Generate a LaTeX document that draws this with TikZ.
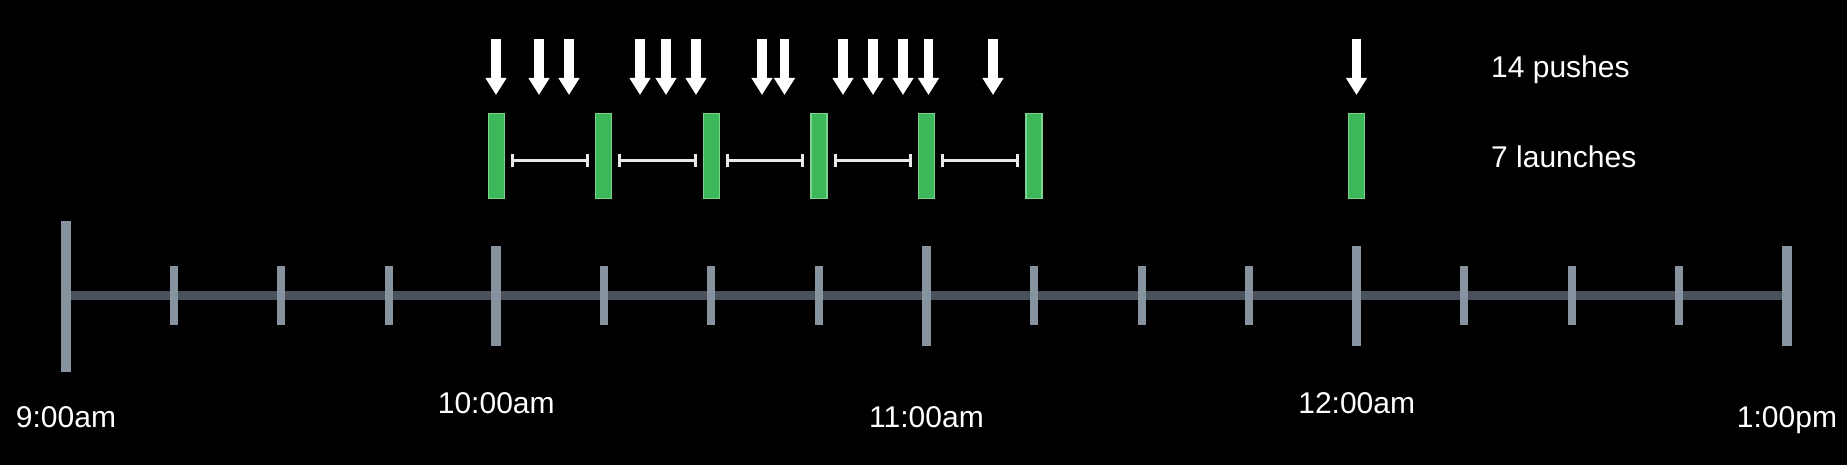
\documentclass[tikz,border=0pt]{standalone}
\usepackage{fontspec}
\setmainfont{Liberation Sans}
\usetikzlibrary{arrows.meta,calc}

\definecolor{tickgray}{RGB}{136,147,160}
\definecolor{axisgray}{RGB}{72,81,92}
\definecolor{launchgreen}{RGB}{60,184,90}
\definecolor{launchedge}{RGB}{122,212,142}
\definecolor{spanwhite}{RGB}{232,232,232}

\tikzset{
    axisline/.style={draw=axisgray, line width=9pt},
    minortick/.style={draw=tickgray, line width=8pt},
    hourtick/.style={draw=tickgray, line width=9.5pt},
    launch/.style={rectangle, fill=launchgreen, draw=launchedge, line width=1.2pt,
        minimum width=16pt, minimum height=85pt, inner sep=0pt},
    push/.style={draw=white, line width=9.5pt, -{Triangle[width=20pt,length=17pt]}},
    span/.style={draw=spanwhite, line width=3pt, {Bar[width=13pt]}-{Bar[width=13pt]},
        shorten <=6pt, shorten >=6pt},
    timelabel/.style={text=white, anchor=base, inner sep=0pt, font=\fontsize{30}{36}\selectfont},
    legendlabel/.style={text=white, anchor=base west, inner sep=0pt, font=\fontsize{30}{36}\selectfont}
}

\begin{document}
\begin{tikzpicture}[x=1pt, y=-1pt]
    \fill[black] (0,0) rectangle (1847,465);
    \useasboundingbox (0,0) rectangle (1847,465);

    \foreach \k in {0,...,16} {
        \coordinate (t\k) at ({66+107.56*\k},295.5);
    }
    \draw[axisline] (t0) -- (t16);
    \foreach \k in {1,2,3,5,6,7,9,10,11,13,14,15} {
        \draw[minortick] ($(t\k)+(0,-29.5)$) -- ($(t\k)+(0,29.5)$);
    }
    \foreach \k in {4,8,12,16} {
        \draw[hourtick] ($(t\k)+(0,-50)$) -- ($(t\k)+(0,50)$);
    }
    \draw[hourtick] ($(t0)+(0,-74)$) -- ($(t0)+(0,76)$);

    \node[timelabel] (nine) at ($(t0 |- 0,427)$) {9:00am};
    \node[timelabel] (ten) at ($(t4 |- 0,413)$) {10:00am};
    \node[timelabel] (eleven) at ($(t8 |- 0,427)$) {11:00am};
    \node[timelabel] (twelve) at ($(t12 |- 0,413)$) {12:00am};
    \node[timelabel] (one) at ($(t16 |- 0,427)$) {1:00pm};

    \node[launch] (l1) at (t4 |- 0,156) {};
    \node[launch] (l2) at (t5 |- 0,156) {};
    \node[launch] (l3) at (t6 |- 0,156) {};
    \node[launch] (l4) at (t7 |- 0,156) {};
    \node[launch] (l5) at (t8 |- 0,156) {};
    \node[launch] (l6) at (t9 |- 0,156) {};
    \node[launch] (l7) at (t12 |- 0,156) {};

    \draw[span] ([yshift=-5pt]l1.east) -- ([yshift=-5pt]l2.west);
    \draw[span] ([yshift=-5pt]l2.east) -- ([yshift=-5pt]l3.west);
    \draw[span] ([yshift=-5pt]l3.east) -- ([yshift=-5pt]l4.west);
    \draw[span] ([yshift=-5pt]l4.east) -- ([yshift=-5pt]l5.west);
    \draw[span] ([yshift=-5pt]l5.east) -- ([yshift=-5pt]l6.west);

    \foreach \x [count=\i] in {496,539,569,640,666,696,762,784.5,843,873,903,928.5,993,1356.5} {
        \coordinate (p\i) at (\x,39);
        \coordinate (q\i) at (\x,95);
        \draw[push] (p\i) -- (q\i);
    }

    \node[legendlabel] (pushes) at (1491,78) {14 pushes};
    \node[legendlabel] (launches) at (1491,168) {7 launches};
\end{tikzpicture}
\end{document}
